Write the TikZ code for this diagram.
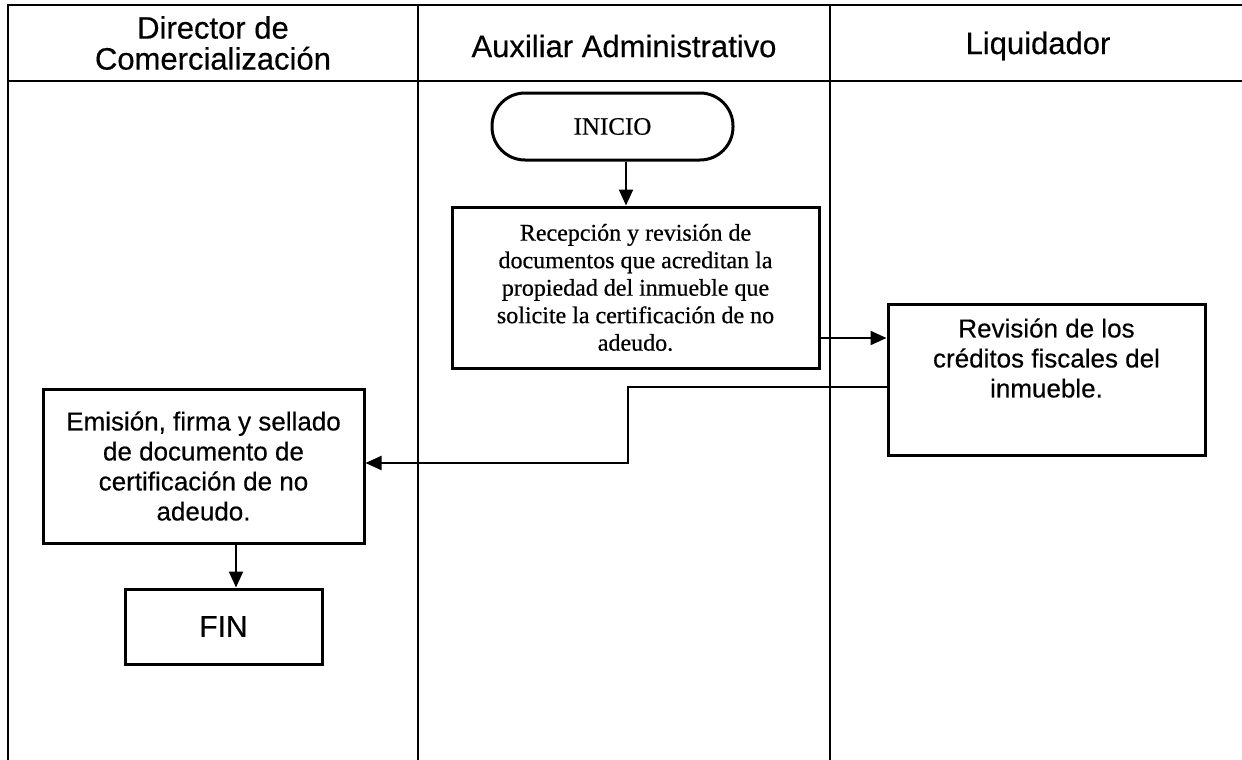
\documentclass[tikz,border=0pt]{standalone}
\usepackage{fontspec}
\setmainfont[FakeBold=0.6]{Liberation Serif}
\newfontfamily\arialf[FakeBold=0.4]{Liberation Sans}
\usetikzlibrary{arrows.meta}
\begin{document}
\begin{tikzpicture}[x=1pt,y=-1pt,
  frame/.style={line width=2.2pt},
  lane/.style={line width=1.8pt},
  box/.style={draw, line width=3pt, align=center, inner sep=0pt},
  conn/.style={line width=2.2pt, -{Triangle[length=16pt,width=14pt]}},
  hdr/.style={align=center, inner sep=0pt, font=\arialf\fontsize{31}{31}\selectfont},
  sbody/.style={align=center, inner sep=0pt, font=\arialf\fontsize{26}{30}\selectfont},
  rbody/.style={align=center, inner sep=0pt, font=\fontsize{24}{27.5}\selectfont}]
\useasboundingbox (0,0) rectangle (1242,760);
\fill[white] (0,0) rectangle (1242,760);
% frame
\draw[frame] (8,760) -- (8,5) -- (1242,5);
\draw[frame] (8,81) -- (1242,81);
\draw[lane] (418,5) -- (418,760);
\draw[lane] (830,5) -- (830,760);
% headers
\node[hdr] (h1) at (213,43) {Director de\\Comercialización};
\node[hdr] (h2) at (624,46) {Auxiliar Administrativo};
\node[hdr] (h3) at (1038,46) {Liquidador};
% nodes
\node[box, rounded corners=33pt, minimum width=241pt, minimum height=67pt,
      font=\fontsize{25}{28}\selectfont] (inicio) at (612.5,126.5) {INICIO};
\node[box, rbody, minimum width=367pt, minimum height=161pt] (recep) at (635.5,287.5)
  {Recepción y revisión de\\documentos que acreditan la\\propiedad del inmueble que\\solicite la certificación de no\\adeudo.};
\node[box, minimum width=317pt, minimum height=151pt] (rev) at (1046.5,379.5) {};
\node[sbody] (revt) at (1046.5,358) {Revisión de los\\créditos fiscales del\\inmueble.};
\node[box, sbody, minimum width=321pt, minimum height=154pt] (emis) at (203.5,466)
  {Emisión, firma y sellado\\de documento de\\certificación de no\\adeudo.};
\node[box, minimum width=197pt, minimum height=75pt,
      font=\arialf\fontsize{30}{32}\selectfont] (fin) at (223.5,626.5) {FIN};
% helper coordinates
\coordinate (ca) at (626,0);
\coordinate (cb) at (0,338);
\coordinate (cc) at (0,387);
\coordinate (cd) at (628,0);
\coordinate (ce) at (0,463);
\coordinate (cf) at (236,0);
% connectors
\draw[conn] (inicio.south -| ca) -- (recep.north -| ca);
\draw[conn] (recep.east |- cb) -- (rev.west |- cb);
\draw[conn] (rev.west |- cc) -- (cd |- cc) -- (cd |- ce) -- (emis.east |- ce);
\draw[conn] (emis.south -| cf) -- (fin.north -| cf);
\end{tikzpicture}
\end{document}
